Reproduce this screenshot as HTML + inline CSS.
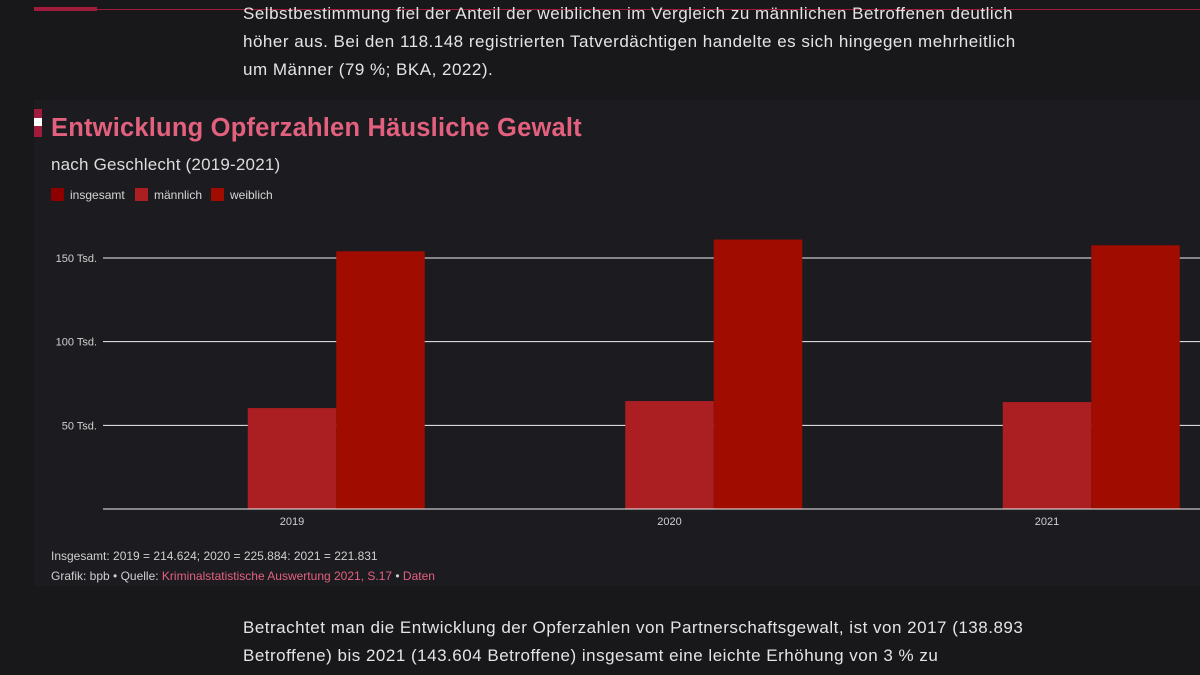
<!DOCTYPE html>
<html><head><meta charset="utf-8"><style>
body{margin:0;width:1200px;height:675px;background:#18181b;overflow:hidden;font-family:"Liberation Sans",sans-serif;position:relative}
.p{position:absolute;left:243px;color:#e4e4e4;font-size:17px;letter-spacing:0.5px;line-height:28px;margin:0;white-space:nowrap}
#panel{position:absolute;left:34px;top:100px;width:1166px;height:486px;background:#1c1c20}
</style></head><body>
<div style="position:absolute;left:34px;top:9px;width:1166px;height:1px;background:#a01c3c"></div>
<div style="position:absolute;left:34px;top:7px;width:63px;height:4px;background:#a01c3c"></div>
<p class="p" style="top:0px">Selbstbestimmung fiel der Anteil der weiblichen im Vergleich zu männlichen Betroffenen deutlich<br>höher aus. Bei den 118.148 registrierten Tatverdächtigen handelte es sich hingegen mehrheitlich<br>um Männer (79 %; BKA, 2022).</p>
<div id="panel"></div>
<div style="position:absolute;left:34px;top:109px;width:8px;height:28px;background:#a01c3c"><div style="position:absolute;top:9px;left:0;width:8px;height:8px;background:#fff"></div></div>
<div style="position:absolute;left:51px;top:114px;font-size:25.5px;letter-spacing:0.2px;font-weight:bold;color:#e3607e">Entwicklung Opferzahlen Häusliche Gewalt</div>
<div style="position:absolute;left:51px;top:155px;font-size:17px;letter-spacing:0.2px;color:#dcdcdc">nach Geschlecht (2019-2021)</div>
<svg id="chart" width="1200" height="675" style="position:absolute;left:0;top:0"></svg>
<div style="position:absolute;left:51px;top:549px;font-size:12px;color:#cfcfcf">Insgesamt: 2019 = 214.624; 2020 = 225.884: 2021 = 221.831</div>
<div style="position:absolute;left:51px;top:569px;font-size:12px;color:#cfcfcf">Grafik: bpb • Quelle: <span style="color:#e3607e">Kriminalstatistische Auswertung 2021, S.17</span> • <span style="color:#e3607e">Daten</span></div>
<p class="p" style="top:614px">Betrachtet man die Entwicklung der Opferzahlen von Partnerschaftsgewalt, ist von 2017 (138.893<br>Betroffene) bis 2021 (143.604 Betroffene) insgesamt eine leichte Erhöhung von 3 % zu</p>
<script>
const categories=["2019","2020","2021"];
const insgesamt=[214.624,225.884,221.831];
const maennlich=[60.3,64.5,63.9];
const weiblich=[154.0,161.0,157.6];
const tickValues=[50,100,150];
const tickLabels=["50 Tsd.","100 Tsd.","150 Tsd."];
const legendLabels=["insgesamt","männlich","weiblich"];
const colors=["#8e0000","#ab1f22","#a00d00"];
const svg=document.getElementById('chart');
const NS="http://www.w3.org/2000/svg";
const y0=509,k=1.6735,xs=103,x1=1200,firstC=292,step=377.5,bw=88.5;
const yS=v=>y0-v*k;
const xC=i=>firstC+i*step;
function mk(t,a){const e=document.createElementNS(NS,t);for(const n in a)e.setAttribute(n,a[n]);svg.appendChild(e);return e;}
tickValues.forEach((v,i)=>{
 const l=mk('line',{x1:xs,x2:x1,y1:yS(v),y2:yS(v),stroke:'#f0f0f0','stroke-width':1});
 
 
 const t=mk('text',{x:97,y:yS(v)+4,'text-anchor':'end','font-size':11,fill:'#cfcfcf','font-family':'Liberation Sans'});
 t.textContent=tickLabels[i];
 
 
});
categories.forEach((c,i)=>{
 const cx=xC(i);
 const m=mk('rect',{x:cx-bw/2,y:yS(maennlich[i]),width:bw,height:maennlich[i]*k,fill:colors[1]});
 
 
 const w=mk('rect',{x:cx+bw/2,y:yS(weiblich[i]),width:bw,height:weiblich[i]*k,fill:colors[2]});
 
 
 const t=mk('text',{x:cx,y:525,'text-anchor':'middle','font-size':11,fill:'#cfcfcf','font-family':'Liberation Sans'});
 t.textContent=c;
 
 
});
const ax=mk('line',{x1:xs,x2:x1,y1:y0,y2:y0,stroke:'#f0f0f0','stroke-width':1});


let lx=51;const lw=[84,76,60];
legendLabels.forEach((n,i)=>{
 const r=mk('rect',{x:lx,y:188,width:13,height:13,fill:colors[i]});
 
 
 const t=mk('text',{x:lx+19,y:199,'font-size':12,fill:'#d6d6d6','font-family':'Liberation Sans'});
 t.textContent=n;
 
 
 lx+=lw[i];
});
</script>
</body></html>
